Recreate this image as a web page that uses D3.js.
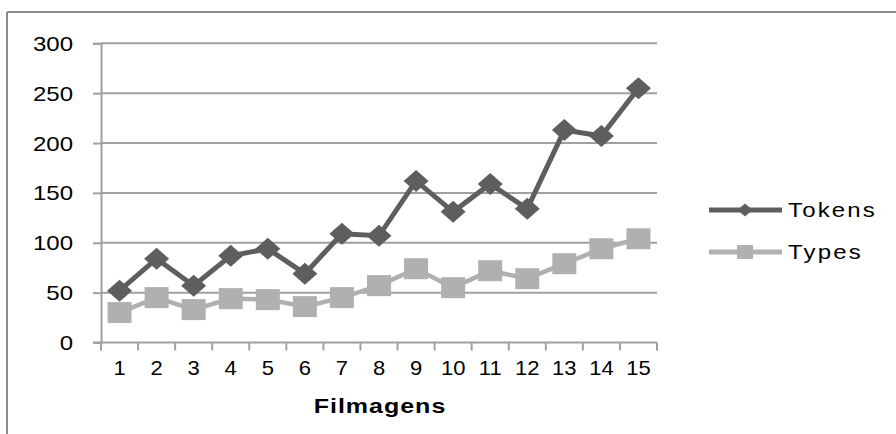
<!DOCTYPE html>
<html>
<head>
<meta charset="utf-8">
<script src="https://cdn.jsdelivr.net/npm/d3@7"></script>
<style>
  html, body { margin: 0; padding: 0; background: #fff; }
  svg { display: block; }
  text { font-family: "Liberation Sans", Arial, sans-serif; fill: #000; }
</style>
</head>
<body>
<svg id="chart" width="896" height="434"></svg>
<script>
// Films 1..15 with token and type counts
const categories = ["1","2","3","4","5","6","7","8","9","10","11","12","13","14","15"];
const tokens = [52, 84, 57, 87, 94, 69, 109, 107, 162, 131, 159, 134, 213, 207, 255];
const types  = [30, 45, 33, 44, 43, 36, 45, 57, 74, 55, 72, 64, 79, 94, 104];
const yTicks = [0, 50, 100, 150, 200, 250, 300];
const xTitle = "Filmagens";
const seriesNames = ["Tokens", "Types"];

const svg = d3.select("#chart");

const plot = { left: 101, right: 657, top: 43.3, bottom: 342.5 };
const x = d3.scaleBand().domain(categories).range([plot.left, plot.right]);
const y = d3.scaleLinear().domain([0, 300]).range([plot.bottom, plot.top]);
const cx = c => x(c) + x.bandwidth() / 2;

const gridColor = "#a0a0a0";
const tokenColor = "#5e5e5e";
const typeColor = "#b0b0b0";
const FONT = "Liberation Sans, Arial, sans-serif";

// widen glyphs horizontally while keeping the anchor point in place
function stretch(sel, s, xPos) {
  sel.attr("transform", `scale(${s},1)`).attr("x", xPos / s);
}

// outer frame (top and left edges visible)
svg.append("line").attr("x1", 7).attr("x2", 896).attr("y1", 12).attr("y2", 12)
  .attr("stroke", "#8c8c8c").attr("stroke-width", 2);
svg.append("line").attr("x1", 7).attr("x2", 7).attr("y1", 12).attr("y2", 434)
  .attr("stroke", "#8c8c8c").attr("stroke-width", 2);

// horizontal gridlines
svg.append("g").selectAll("line").data(yTicks.filter(t => t > 0)).join("line")
  .attr("x1", plot.left).attr("x2", plot.right)
  .attr("y1", d => y(d)).attr("y2", d => y(d))
  .attr("stroke", gridColor).attr("stroke-width", 2);

// y axis
const yAxis = svg.append("g").attr("transform", `translate(${plot.left},0)`)
  .call(d3.axisLeft(y).tickValues(yTicks).tickSize(8));
yAxis.select(".domain").attr("stroke", gridColor).attr("stroke-width", 2);
yAxis.selectAll(".tick line").attr("stroke", gridColor).attr("stroke-width", 2);
yAxis.selectAll(".tick text")
  .attr("font-size", 20).attr("font-family", FONT).attr("fill", "#000")
  .attr("dy", "0.35em")
  .call(stretch, 1.2, -28);

// x axis
const xAxis = svg.append("g").attr("transform", `translate(0,${plot.bottom})`)
  .call(d3.axisBottom(x).tickSize(0).tickPadding(18));
xAxis.select(".domain").remove();
xAxis.append("line").attr("x1", plot.left - 8).attr("x2", plot.right)
  .attr("stroke", gridColor).attr("stroke-width", 2);
xAxis.selectAll(".boundary").data(d3.range(categories.length + 1)).join("line")
  .attr("class", "boundary")
  .attr("x1", i => plot.left + i * x.step()).attr("x2", i => plot.left + i * x.step())
  .attr("y1", 0).attr("y2", 8)
  .attr("stroke", gridColor).attr("stroke-width", 2);
xAxis.selectAll(".tick text")
  .attr("font-size", 20).attr("font-family", FONT).attr("fill", "#000")
  .call(stretch, 1.1, 0);

// axis title
svg.append("text")
  .attr("transform", "translate(380,413) scale(1.25,1)")
  .attr("text-anchor", "middle").attr("font-size", 20).attr("font-weight", "bold")
  .attr("letter-spacing", 0.8).text(xTitle);

const line = d3.line().x((d, i) => cx(categories[i])).y(d => y(d));

// Types series
svg.append("path").datum(types).attr("d", line)
  .attr("fill", "none").attr("stroke", typeColor).attr("stroke-width", 4.5);
svg.append("g").selectAll("rect").data(types).join("rect")
  .attr("x", (d, i) => cx(categories[i]) - 12).attr("y", d => y(d) - 10.5)
  .attr("width", 24).attr("height", 21).attr("fill", typeColor);

// Tokens series
svg.append("path").datum(tokens).attr("d", line)
  .attr("fill", "none").attr("stroke", tokenColor).attr("stroke-width", 5);
const diamond = (w, h) => `M0,${-h/2}L${w/2},0L0,${h/2}L${-w/2},0Z`;
svg.append("g").selectAll("path").data(tokens).join("path")
  .attr("transform", (d, i) => `translate(${cx(categories[i])},${y(d)})`)
  .attr("d", diamond(25, 22)).attr("fill", tokenColor);

// legend
const legend = svg.append("g");
const legendRows = [
  { name: seriesNames[0], color: tokenColor, y: 210, marker: "diamond" },
  { name: seriesNames[1], color: typeColor, y: 252, marker: "square" }
];
legendRows.forEach(r => {
  legend.append("line").attr("x1", 709).attr("x2", 782).attr("y1", r.y).attr("y2", r.y)
    .attr("stroke", r.color).attr("stroke-width", 5);
  if (r.marker === "diamond") {
    legend.append("path").attr("transform", `translate(745,${r.y})`)
      .attr("d", diamond(15, 13)).attr("fill", r.color);
  } else {
    legend.append("rect").attr("x", 745 - 8).attr("y", r.y - 7)
      .attr("width", 16).attr("height", 14).attr("fill", r.color);
  }
  legend.append("text")
    .attr("transform", `translate(788,${r.y + 7}) scale(1.2,1)`)
    .attr("font-size", 20).attr("letter-spacing", 1.8).text(r.name);
});
</script>
</body>
</html>
